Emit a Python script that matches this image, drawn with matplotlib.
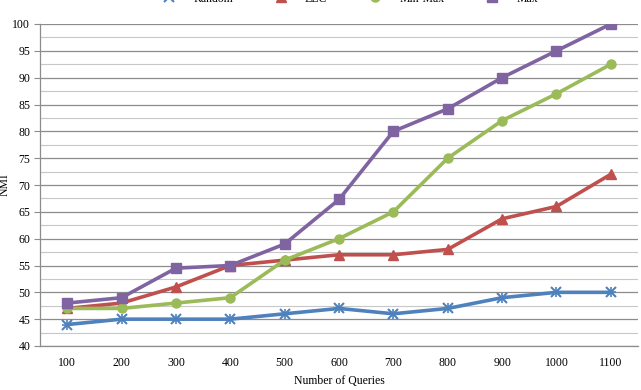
import matplotlib
matplotlib.use("Agg")
import matplotlib.pyplot as plt
from matplotlib.ticker import MultipleLocator

queries = ["100", "200", "300", "400", "500", "600", "700", "800", "900", "1000", "1100"]
random_vals = [44, 45, 45, 45, 46, 47, 46, 47, 49, 50, 50]
llc_vals = [47, 48, 51, 55, 56, 57, 57, 58, 63.7, 66, 72]
minmax_vals = [47, 47, 48, 49, 56, 60, 65, 75, 82, 87, 92.5]
max_vals = [48, 49, 54.5, 55, 59, 67.3, 80, 84.2, 90, 95, 100]

plt.rcParams['font.family'] = ['Liberation Serif', 'DejaVu Serif']

W, H = 641, 390
fig = plt.figure(figsize=(W / 100, H / 100), dpi=100)
ax = fig.add_axes([40 / W, 1 - 346 / H, (638 - 40) / W, (346 - 24) / H])

x = list(range(len(queries)))
series = [
    ("Random", random_vals, "#4F81BD", "x"),
    ("LLC", llc_vals, "#C0504D", "^"),
    ("Min-Max", minmax_vals, "#9BBB59", "o"),
    ("Max", max_vals, "#8064A2", "s"),
]
handles = []
for name, vals, col, mk in series:
    h, = ax.plot(x, vals, color=col, lw=2.6, marker=mk, ms=6.5, mew=1.5 if mk == "x" else 1,
                 mec=col, mfc=col, label=name, zorder=3)
    if mk == "x":
        ax.plot(x, vals, ls="none", marker="+", ms=6.5, mew=1.2, color=col, zorder=3)
    handles.append(h)

ax.set_xlim(-0.5, len(queries) - 0.5)
ax.set_ylim(40, 100)
ax.yaxis.set_major_locator(MultipleLocator(5))
ax.yaxis.set_minor_locator(MultipleLocator(2.5))
ax.grid(True, which="major", axis="y", color="#8c8c8c", lw=0.9)
ax.grid(True, which="minor", axis="y", color="#c8c8c8", lw=0.8)
ax.set_axisbelow(True)
ax.set_xticks(x)
ax.set_xticklabels(queries)
for s in ["top", "right"]:
    ax.spines[s].set_visible(False)
for s in ["left", "bottom"]:
    ax.spines[s].set_color("#8c8c8c")
    ax.spines[s].set_linewidth(0.9)
ax.tick_params(axis="y", which="major", length=4, color="#8c8c8c", labelsize=8.5, pad=3)
ax.tick_params(axis="y", which="minor", length=0)
ax.tick_params(axis="x", length=0, labelsize=8.5, pad=8)
ax.set_xlabel("Number of Queries", fontsize=8.5, labelpad=4)
ax.set_ylabel("NMI", fontsize=8.5)
ax.yaxis.set_label_coords((11 - 40) / 598, 0.5)

fig.legend(handles=handles, loc="center", bbox_to_anchor=(0.54, 1 + 1.5 / H), ncol=4,
           frameon=False, fontsize=8.5, handlelength=2.5, columnspacing=2.8)

fig.savefig("out.png", dpi=100)
